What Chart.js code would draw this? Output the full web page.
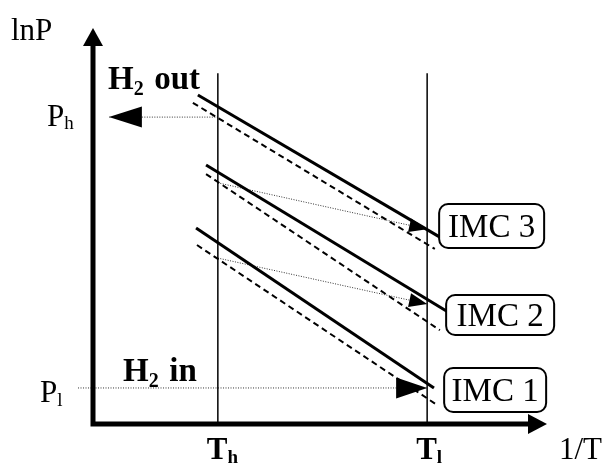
<!DOCTYPE html>
<html>
<head>
<meta charset="utf-8">
<script src="https://cdn.jsdelivr.net/npm/chart.js@4/dist/chart.umd.min.js"></script>
<style>
    html, body { margin: 0; padding: 0; background: #fff; }
    canvas { display: block; }
</style>
</head>
<body>
<canvas id="vantHoffChart" width="604" height="464"></canvas>
<script>
// arbitrary units: 1/T on x (0-100), lnP on y (0-100)
const tempNames = ['T', 'T'];
const tempSubs = ['h', 'l'];
const tempX = [27.5, 73.6];
const isothermTop = 88.6;

const imcNames = ['IMC 1', 'IMC 2', 'IMC 3'];
const solidX = [[22.7, 75.1], [24.9, 78.2], [23.1, 76.4]];
const solidY = [[49.5, 9.1], [65.4, 28.3], [83.1, 47.2]];
const dashedX = [[22.9, 75.8], [24.9, 76.4], [22.0, 75.3]];
const dashedY = [[45.2, 4.8], [63.1, 23.7], [81.1, 44.2]];

// dotted shift arrows IMC1 -> IMC2, IMC2 -> IMC3 (from Th to Tl)
const shiftFromY = [41.9, 60.9];
const shiftToY = [30.3, 49.2];

// pressure levels Ph, Pl
const pressureY = [77.5, 9.1];
const phArrowX = [27.5, 3.5];
const plArrowX = [-3.3, 73.6];

const pts = (xs, ys) => xs.map((x, i) => ({x: x, y: ys[i]}));

const datasets = [];
tempX.forEach(x => {
    datasets.push({
        data: pts([x, x], [0, isothermTop]),
        borderColor: '#000', borderWidth: 1.5
    });
});
imcNames.forEach((n, i) => {
    datasets.push({
        label: n,
        data: pts(solidX[i], solidY[i]),
        borderColor: '#000', borderWidth: 3
    });
    datasets.push({
        label: n + ' dashed',
        data: pts(dashedX[i], dashedY[i]),
        borderColor: '#000', borderWidth: 2, borderDash: [6, 4]
    });
});
shiftFromY.forEach((y, i) => {
    datasets.push({
        data: pts([tempX[0], tempX[1]], [y, shiftToY[i]]),
        borderColor: '#333', borderWidth: 1, borderDash: [1, 1.5],
        head: {len: 18, width: 14}
    });
});
datasets.push({
    data: pts(phArrowX, [pressureY[0], pressureY[0]]),
    borderColor: '#333', borderWidth: 1, borderDash: [1, 1.5],
    head: {len: 33, width: 21}
});
datasets.push({
    data: pts(plArrowX, [pressureY[1], pressureY[1]]),
    borderColor: '#333', borderWidth: 1, borderDash: [1, 1.5],
    head: {len: 31, width: 21}, clip: false
});

const serif = '"Liberation Serif", "DejaVu Serif", serif';

const drawSub = (ctx, main, sub, x, y, size, bold, subDrop) => {
    const w = bold ? 'bold ' : '';
    ctx.font = w + size + 'px ' + serif;
    ctx.fillText(main, x, y);
    const mw = ctx.measureText(main).width;
    ctx.font = w + Math.round(size * 0.62) + 'px ' + serif;
    ctx.fillText(sub, x + mw, y + subDrop);
    return x + mw + ctx.measureText(sub).width;
};

const roundRect = (ctx, x, y, w, h, r) => {
    ctx.beginPath();
    ctx.moveTo(x + r, y);
    ctx.arcTo(x + w, y, x + w, y + h, r);
    ctx.arcTo(x + w, y + h, x, y + h, r);
    ctx.arcTo(x, y + h, x, y, r);
    ctx.arcTo(x, y, x + w, y, r);
    ctx.closePath();
    ctx.stroke();
};

const diagramPlugin = {
    id: 'diagram',
    afterDatasetsDraw(chart) {
        const ctx = chart.ctx;
        const xs = chart.scales.x, ys = chart.scales.y;
        const a = chart.chartArea;
        ctx.save();
        ctx.fillStyle = '#000';
        ctx.strokeStyle = '#000';

        // arrow heads on dotted lines
        chart.data.datasets.forEach((ds, i) => {
            if (!ds.head) return;
            const d = chart.getDatasetMeta(i).data;
            const p1 = d[d.length - 2], p2 = d[d.length - 1];
            const ang = Math.atan2(p2.y - p1.y, p2.x - p1.x);
            ctx.save();
            ctx.translate(p2.x, p2.y);
            ctx.rotate(ang);
            ctx.beginPath();
            ctx.moveTo(0, 0);
            ctx.lineTo(-ds.head.len, -ds.head.width / 2);
            ctx.lineTo(-ds.head.len, ds.head.width / 2);
            ctx.closePath();
            ctx.fill();
            ctx.restore();
        });

        // axes with arrows
        const ox = xs.getPixelForValue(0), oy = ys.getPixelForValue(0);
        ctx.lineWidth = 5;
        ctx.lineCap = 'butt';
        ctx.beginPath();
        ctx.moveTo(ox, oy + 2.5);
        ctx.lineTo(ox, a.top + 16);
        ctx.moveTo(ox - 2.5, oy);
        ctx.lineTo(a.right - 18, oy);
        ctx.stroke();
        ctx.beginPath();
        ctx.moveTo(ox, a.top);
        ctx.lineTo(ox - 10, a.top + 18);
        ctx.lineTo(ox + 10, a.top + 18);
        ctx.closePath();
        ctx.fill();
        ctx.beginPath();
        ctx.moveTo(a.right, oy);
        ctx.lineTo(a.right - 19, oy - 10);
        ctx.lineTo(a.right - 19, oy + 10);
        ctx.closePath();
        ctx.fill();

        // axis titles and labels
        ctx.textBaseline = 'alphabetic';
        ctx.textAlign = 'left';
        ctx.font = '31px ' + serif;
        ctx.fillText('lnP', 11, 40);
        ctx.fillText('1/T', 559, 459);
        drawSub(ctx, 'P', 'h', 47, ys.getPixelForValue(pressureY[0]) + 9, 31, false, 3);
        drawSub(ctx, 'P', 'l', 40, ys.getPixelForValue(pressureY[1]) + 14, 31, false, 4);
        tempX.forEach((x, i) => {
            const px = xs.getPixelForValue(x);
            drawSub(ctx, tempNames[i], tempSubs[i], px - 11, 459, 31, true, 4);
        });
        drawSub(ctx, 'H', '2', 108, 89, 33, true, 6);
        ctx.font = 'bold 33px ' + serif;
        ctx.fillText(' out', 108 + 26 + 12, 89);
        drawSub(ctx, 'H', '2', 123, 381, 33, true, 6);
        ctx.font = 'bold 33px ' + serif;
        ctx.fillText(' in', 123 + 26 + 12, 381);

        // IMC boxes beside the line ends
        const tl = xs.getPixelForValue(tempX[1]);
        const boxes = [[tl + 17, 368, 102, 44], [tl + 19, 295, 108, 40], [tl + 12, 204, 105, 44]];
        ctx.lineWidth = 2;
        ctx.font = '33px ' + serif;
        ctx.textAlign = 'center';
        ctx.textBaseline = 'middle';
        imcNames.forEach((n, i) => {
            const b = boxes[i];
            ctx.fillStyle = '#fff';
            ctx.fillRect(b[0], b[1], b[2], b[3]);
            roundRect(ctx, b[0], b[1], b[2], b[3], 9);
            ctx.fillStyle = '#000';
            ctx.fillText(n, b[0] + b[2] / 2, b[1] + b[3] / 2 + 2);
        });
        ctx.restore();
    }
};

new Chart(document.getElementById('vantHoffChart').getContext('2d'), {
    type: 'scatter',
    data: {datasets: datasets.map(ds => Object.assign({showLine: true, pointRadius: 0, fill: false}, ds))},
    options: {
        responsive: false,
        animation: false,
        layout: {padding: {left: 93, right: 57, top: 28, bottom: 40}},
        scales: {
            x: {type: 'linear', min: 0, max: 100, display: false},
            y: {type: 'linear', min: 0, max: 100, display: false}
        },
        plugins: {
            legend: {display: false},
            tooltip: {enabled: false}
        }
    },
    plugins: [diagramPlugin]
});
</script>
</body>
</html>
